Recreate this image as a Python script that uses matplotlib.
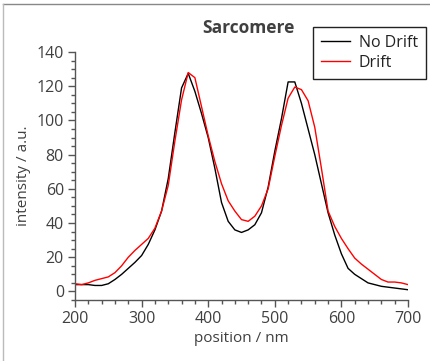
import numpy as np
import matplotlib
matplotlib.use("Agg")
from matplotlib import pyplot as plt
from matplotlib.ticker import MultipleLocator
from matplotlib.lines import Line2D

position = list(range(200, 701, 10))
no_drift = [4, 4, 4, 3.5, 3.5, 4.5, 7, 10, 13.5, 17,
            21, 27.5, 36, 47, 66, 93, 119, 127.5, 117, 104,
            90, 72, 52, 41, 36, 34.5, 36, 39, 46, 61,
            82, 101, 122.5, 122.5, 110, 95, 80, 63, 46, 33,
            22, 13.5, 10, 7.5, 5, 4, 3, 2.5, 2, 1.5, 1]
drift = [4.5, 4, 5, 6.5, 7.5, 8.5, 11, 15, 20, 24,
         27.5, 31, 37, 47, 62, 88, 112, 128, 125, 108,
         91, 76, 63, 53, 47, 42, 41, 44, 50, 60,
         79, 97, 113, 119.5, 118, 111.5, 96, 72, 47, 38,
         31, 25, 19.5, 16, 13, 10, 7, 5.5, 5.5, 5, 4]

plt.rcParams['font.family'] = ['Open Sans', 'DejaVu Sans']
txt = '#404040'
spine = '#555555'

fig = plt.figure(figsize=(4.30, 3.61), dpi=100)
ax = fig.add_axes([75/430, 1-300/361, (408-75)/430, (300-52)/361])

ax.plot(position, no_drift, color='black', lw=1.0, label='No Drift')
ax.plot(position, drift, color='red', lw=1.0, label='Drift')

ax.set_xlim(200, 700)
ax.set_ylim(-5, 140)
ax.xaxis.set_major_locator(MultipleLocator(100))
ax.xaxis.set_minor_locator(MultipleLocator(20))
ax.yaxis.set_major_locator(MultipleLocator(20))
ax.yaxis.set_minor_locator(MultipleLocator(5))
for s in ['top', 'right']:
    ax.spines[s].set_visible(False)
for s in ['left', 'bottom']:
    ax.spines[s].set_color(spine)
    ax.spines[s].set_linewidth(1.0)
ax.tick_params(which='major', direction='out', length=5, width=1, color=spine,
               labelsize=11.5, labelcolor=txt, pad=3)
ax.tick_params(which='minor', direction='out', length=3, width=1, color=spine)

ax.set_xlabel('position / nm', fontsize=11, color=txt, labelpad=3)
ax.set_ylabel('intensity / a.u.', fontsize=11, color=txt, labelpad=4)
ax.set_title('Sarcomere', fontsize=12.5, fontweight='bold', color=txt, pad=14,
             x=0.52)

leg = ax.legend(loc='upper right', bbox_to_anchor=(426/430, 1-27/361),
                bbox_transform=fig.transFigure, fontsize=11.5, frameon=True,
                fancybox=False, edgecolor='#222222', framealpha=1,
                borderpad=0.5, handlelength=1.8, handletextpad=0.55,
                labelspacing=0.25, borderaxespad=0)
leg.get_frame().set_linewidth(1.0)
for t in leg.get_texts():
    t.set_color('#222222')

fig.add_artist(Line2D([3/430, 1], [1-4/361, 1-4/361], transform=fig.transFigure,
                      color='#888888', lw=1))
fig.add_artist(Line2D([3/430, 3/430], [0, 1-4/361], transform=fig.transFigure,
                      color='#bbbbbb', lw=1))

fig.savefig('out.png', dpi=100)
